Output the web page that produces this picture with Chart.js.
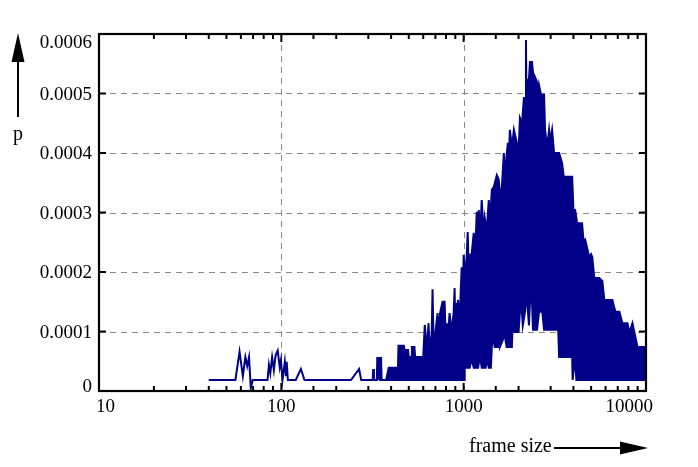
<!DOCTYPE html>
<html>
<head>
<meta charset="utf-8">
<script src="https://cdn.jsdelivr.net/npm/chart.js@4.4.1/dist/chart.umd.min.js"></script>
<style>
  html, body { margin: 0; padding: 0; background: #fff; }
  canvas { display: block; }
</style>
</head>
<body>
<canvas id="chart" width="698" height="467"></canvas>
<script>
// frame size distribution
// upper edge of the curve over the whole range
const frameSize = [
  40, 56, 59, 61.5, 63.5, 65, 66.5, 68, 69.7, 84,
  85.5, 87, 89, 91, 93, 95.5, 98, 99.5, 101.5, 104.5,
  106, 107, 108.6, 120, 128, 134, 241, 267, 274, 317,
  319, 322, 334, 336, 340, 344, 348, 352, 355, 376,
  388, 436, 439, 470, 474, 495, 500, 515, 520, 537,
  542, 600, 612, 628, 642, 650, 668, 675, 684, 700,
  719, 730, 742, 766, 786, 796, 806, 818, 837, 858,
  881, 892, 898, 905, 918, 930, 952, 975, 988, 1000,
  1020, 1040, 1052, 1066, 1079, 1107, 1135, 1157, 1179, 1195,
  1210, 1235, 1256, 1289, 1305, 1340, 1373, 1400, 1427, 1463,
  1520, 1559, 1590, 1620, 1661, 1680, 1704, 1747, 1770, 1792,
  1840, 1886, 1959, 2000, 2035, 2090, 2141, 2170, 2196, 2210,
  2224, 2280, 2310, 2370, 2400, 2462, 2525, 2557, 2590, 2656,
  2760, 2795, 2870, 2940, 2980, 3054, 3133, 3254, 3337, 3467,
  3540, 3740, 3935, 4000, 4088, 4190, 4460, 4550, 4640, 4884,
  5000, 5074, 5205, 5545, 5760, 5908, 6540, 6792, 7145, 7423,
  7910, 8112, 8427, 8645, 8980, 9566, 10000];
const prob = [
  1.85e-5, 1.85e-5, 6.6e-5, 2.5e-5, 5.7e-5, 4.2e-5, 5.7e-5, 0.5e-5, 1.85e-5, 1.85e-5,
  4.4e-5, 3.0e-5, 5.7e-5, 3.5e-5, 6.0e-5, 6.8e-5, 4.0e-5, 5.2e-5, 1.85e-5, 4.9e-5,
  2.5e-5, 4.9e-5, 1.85e-5, 1.85e-5, 3.7e-5, 1.85e-5, 1.85e-5, 3.7e-5, 1.85e-5, 1.85e-5,
  3.7e-5, 1.85e-5, 1.85e-5, 5.7e-5, 1.85e-5, 5.7e-5, 1.85e-5, 5.7e-5, 1.85e-5, 1.85e-5,
  3.9e-5, 3.9e-5, 7.6e-5, 7.6e-5, 6.9e-5, 6.9e-5, 5.7e-5, 5.7e-5, 7.4e-5, 7.4e-5,
  5.7e-5, 5.7e-5, 1.11e-4, 7.0e-5, 1.14e-4, 6.5e-5, 9.8e-5, 1.71e-4, 8.0e-5, 9.8e-5,
  1.31e-4, 9.0e-5, 1.31e-4, 1.5e-4, 1.5e-4, 9.5e-5, 1.14e-4, 8.5e-5, 1.31e-4, 1.0e-4,
  1.31e-4, 1.73e-4, 1.1e-4, 1.48e-4, 1.15e-4, 1.53e-4, 1.25e-4, 2.08e-4, 1.55e-4, 2.29e-4,
  1.9e-4, 2.29e-4, 2.67e-4, 2.0e-4, 2.29e-4, 2.3e-4, 2.66e-4, 2.3e-4, 3.01e-4, 2.6e-4,
  3.04e-4, 2.7e-4, 3.21e-4, 2.59e-4, 2.91e-4, 2.7e-4, 3.21e-4, 2.9e-4, 3.38e-4, 3.43e-4,
  3.63e-4, 3.55e-4, 3.2e-4, 3.43e-4, 4.0e-4, 3.5e-4, 3.83e-4, 4.17e-4, 3.9e-4, 4.39e-4,
  4.1e-4, 4.39e-4, 4.17e-4, 4.0e-4, 4.59e-4, 4.5e-4, 4.94e-4, 4.6e-4, 5.9e-4, 4.9e-4,
  5.23e-4, 5.23e-4, 5.53e-4, 5.53e-4, 5.35e-4, 5.28e-4, 5.19e-4, 4.94e-4, 5.14e-4, 4.98e-4,
  4.98e-4, 4.39e-4, 4.1e-4, 4.39e-4, 4.2e-4, 4.39e-4, 4.0e-4, 4.0e-4, 4.0e-4, 3.83e-4,
  3.6e-4, 3.6e-4, 3.6e-4, 3.04e-4, 3.04e-4, 2.82e-4, 2.82e-4, 2.5e-4, 2.54e-4, 2.25e-4,
  2.3e-4, 2.25e-4, 1.9e-4, 1.9e-4, 1.85e-4, 1.53e-4, 1.53e-4, 1.33e-4, 1.33e-4, 1.14e-4,
  1.14e-4, 0.98e-4, 1.14e-4, 0.98e-4, 0.74e-4, 0.74e-4, 0.74e-4];

// lower edge of the dense block
const lowerSize = [
  376, 1005, 1013, 1079, 1107, 1135, 1200, 1230, 1256, 1320,
  1340, 1373, 1410, 1427, 1445, 1480, 1540, 1560, 1580, 1680,
  1720, 1838, 1850, 2000, 2035, 2087, 2110, 2170, 2224, 2252,
  2281, 2310, 2370, 2400, 2525, 2590, 2700, 2760, 2830, 2866,
  2900, 3054, 3300, 3337, 3935, 3960, 4088, 4150, 10000];
const lowerProb = [
  1.85e-5, 1.85e-5, 3.9e-5, 3.9e-5, 5.5e-5, 3.9e-5, 3.9e-5, 6.0e-5, 3.9e-5, 3.9e-5,
  5.5e-5, 3.9e-5, 3.9e-5, 7.4e-5, 9.4e-5, 7.4e-5, 7.4e-5, 1.33e-4, 7.4e-5, 9.4e-5,
  7.4e-5, 7.4e-5, 9.9e-5, 9.9e-5, 1.33e-4, 1.33e-4, 1.1e-4, 1.33e-4, 1.7e-4, 1.33e-4,
  1.1e-4, 1.5e-4, 1.5e-4, 1.03e-4, 1.03e-4, 1.33e-4, 1.33e-4, 1.03e-4, 1.03e-4, 1.33e-4,
  1.03e-4, 1.03e-4, 1.03e-4, 5.7e-5, 5.7e-5, 1.85e-5, 5.7e-5, 1.85e-5, 1.85e-5];

const xMajor = [10, 100, 1000, 10000];
const xGrid = [100, 1000];
const yGrid = [0.0001, 0.0002, 0.0003, 0.0004, 0.0005];

const navy = "#000088";
const serif = "'Liberation Serif', 'Times New Roman', serif";

const upper = frameSize.map((x, i) => ({ x: x, y: prob[i] }));
const lower = lowerSize.map((x, i) => ({ x: x, y: lowerProb[i] }));

function seg(ctx, x1, y1, x2, y2) {
  ctx.beginPath();
  ctx.moveTo(x1, y1);
  ctx.lineTo(x2, y2);
  ctx.stroke();
}

// dashed grid, inward ticks, box, tick labels and the arrow titles
const decor = {
  id: "decor",
  beforeDatasetsDraw(chart) {
    const { ctx, chartArea: a, scales: { x, y } } = chart;
    ctx.save();
    ctx.strokeStyle = "#8a8a8a";
    ctx.lineWidth = 1;
    ctx.setLineDash([6, 5]);
    xGrid.forEach(v => {
      const px = Math.round(x.getPixelForValue(v)) + 0.5;
      seg(ctx, px, a.top, px, a.bottom);
    });
    yGrid.forEach(v => {
      const py = Math.round(y.getPixelForValue(v)) + 0.5;
      seg(ctx, a.left, py, a.right, py);
    });
    ctx.restore();
  },
  afterDatasetsDraw(chart) {
    const { ctx, chartArea: a, scales: { x, y } } = chart;
    ctx.save();
    ctx.strokeStyle = "#000";
    ctx.lineWidth = 2;
    x.ticks.forEach(t => {
      const px = x.getPixelForValue(t.value);
      const len = xMajor.includes(t.value) ? 8 : 5;
      seg(ctx, px, a.bottom, px, a.bottom - len);
      seg(ctx, px, a.top, px, a.top + len);
    });
    y.ticks.forEach(t => {
      const py = y.getPixelForValue(t.value);
      seg(ctx, a.left, py, a.left + 7, py);
      seg(ctx, a.right, py, a.right - 7, py);
    });
    ctx.lineWidth = 2.2;
    ctx.strokeRect(a.left, a.top, a.right - a.left, a.bottom - a.top);

    // tick labels
    ctx.fillStyle = "#000";
    ctx.font = "19px " + serif;
    ctx.textBaseline = "alphabetic";
    ctx.textAlign = "right";
    const last = y.ticks.length - 1;
    y.ticks.forEach((t, i) => {
      let py = y.getPixelForValue(t.value) + 6;
      if (i === 0) py -= 5;
      if (i === last) py += 8;
      ctx.fillText(t.label, 92, py);
    });
    xMajor.forEach((v, i) => {
      let px = x.getPixelForValue(v);
      ctx.textAlign = "center";
      if (i === 0) { ctx.textAlign = "left"; px -= 3; }
      if (i === xMajor.length - 1) { ctx.textAlign = "right"; px += 7; }
      ctx.fillText(String(v), px, a.bottom + 21);
    });
    ctx.restore();
  },
  afterDraw(chart) {
    const ctx = chart.ctx;
    ctx.save();
    ctx.fillStyle = "#000";
    ctx.strokeStyle = "#000";
    ctx.font = "20px " + serif;
    ctx.textBaseline = "alphabetic";
    ctx.textAlign = "center";
    ctx.fillText("p", 18, 140);
    ctx.textAlign = "left";
    ctx.fillText("frame size", 469, 452);
    ctx.lineWidth = 2;
    seg(ctx, 18, 117, 18, 58);
    ctx.beginPath();
    ctx.moveTo(18, 33);
    ctx.lineTo(11.5, 62);
    ctx.lineTo(24.5, 62);
    ctx.closePath();
    ctx.fill();
    seg(ctx, 554, 448, 624, 448);
    ctx.beginPath();
    ctx.moveTo(648, 448);
    ctx.lineTo(620, 441.5);
    ctx.lineTo(620, 454.5);
    ctx.closePath();
    ctx.fill();
    ctx.restore();
  }
};

new Chart(document.getElementById("chart"), {
  type: "line",
  data: {
    datasets: [
      {
        label: "p",
        data: upper,
        borderColor: navy,
        backgroundColor: navy,
        borderWidth: 2,
        pointRadius: 0,
        tension: 0,
        fill: false
      },
      {
        label: "lower",
        data: lower,
        borderColor: navy,
        backgroundColor: navy,
        borderWidth: 2,
        pointRadius: 0,
        tension: 0,
        fill: "-1"
      }
    ]
  },
  options: {
    responsive: false,
    animation: false,
    devicePixelRatio: 1,
    layout: { padding: { left: 0, right: 52, top: 34, bottom: 0 } },
    plugins: {
      legend: { display: false },
      tooltip: { enabled: false }
    },
    scales: {
      x: {
        type: "logarithmic",
        min: 10,
        max: 10000,
        grid: { display: false, drawTicks: false },
        border: { display: false },
        afterFit: s => { s.height = 76; },
        ticks: { display: false, autoSkip: false }
      },
      y: {
        min: 0,
        max: 0.0006,
        grid: { display: false, drawTicks: false },
        border: { display: false },
        afterFit: s => { s.width = 99; },
        ticks: {
          display: false,
          stepSize: 0.0001,
          callback: v => (v === 0 ? "0" : v.toFixed(4))
        }
      }
    }
  },
  plugins: [decor]
});
</script>
</body>
</html>
